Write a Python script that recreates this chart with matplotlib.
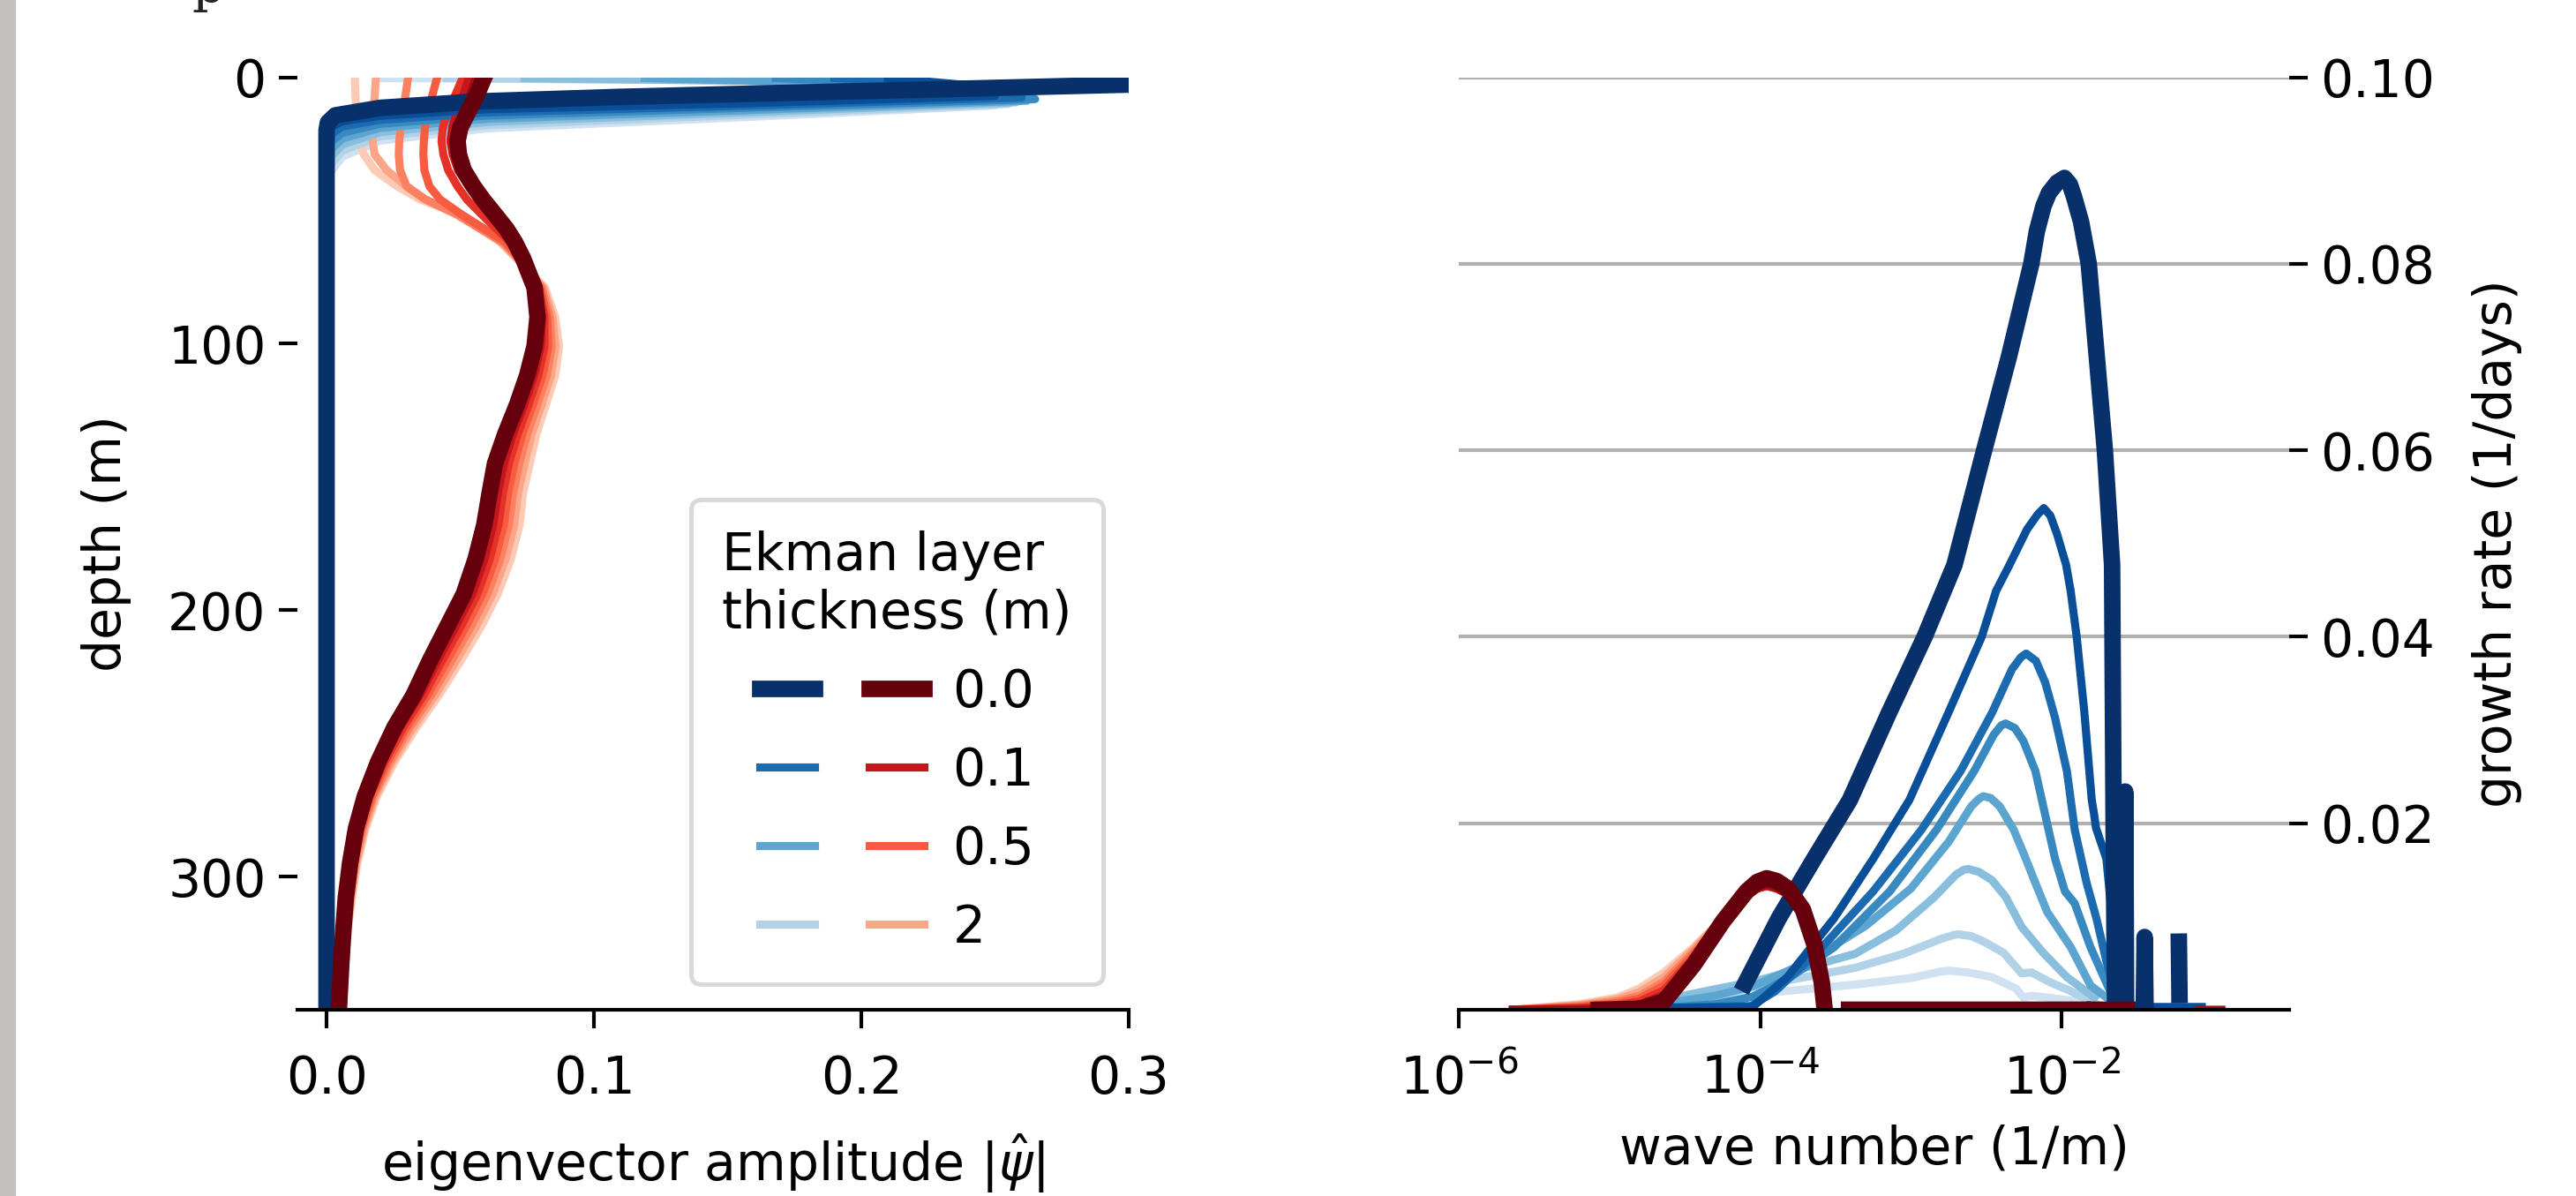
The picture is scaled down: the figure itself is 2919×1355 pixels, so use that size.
import numpy as np
import matplotlib.pyplot as plt
from matplotlib.patches import Rectangle
from matplotlib.legend_handler import HandlerTuple
from matplotlib.ticker import FormatStrFormatter, NullLocator

plt.rcParams['font.family'] = 'DejaVu Sans'
plt.rcParams['font.size'] = 14

# ---------------- data ----------------
# legend entries (Ekman layer thickness, m); curves are ordered thin -> thick layer
legend_idx = [0, 2, 4, 6]
legend_labels = ['0.0', '0.1', '0.5', '2']

# left panel: eigenvector amplitude |psi_hat| vs depth (m)
blue_amp = [
    [0.320, 0.302, 0.230, 0.162, 0.109, 0.056, 0.020, 0.0033, 0.0005, 0.0, 0.0],
    [0.210, 0.240, 0.250, 0.156, 0.060, 0.020, 0.006, 0.0, 0.0],
    [0.190, 0.240, 0.260, 0.156, 0.060, 0.020, 0.006, 0.0, 0.0],
    [0.168, 0.240, 0.265, 0.156, 0.060, 0.020, 0.006, 0.0, 0.0],
    [0.119, 0.155, 0.240, 0.262, 0.156, 0.060, 0.020, 0.006, 0.0, 0.0],
    [0.074, 0.150, 0.240, 0.258, 0.156, 0.060, 0.020, 0.006, 0.0, 0.0],
    [0.045, 0.150, 0.240, 0.255, 0.156, 0.060, 0.020, 0.006, 0.0, 0.0],
    [0.020, 0.150, 0.240, 0.250, 0.156, 0.060, 0.020, 0.006, 0.0, 0.0],
]
blue_depth = [
    [2.2, 2.7, 4.5, 6.1, 7.4, 9.1, 11.5, 14.3, 17.0, 20.0, 350.0],
    [0.3, 3.0, 7.0, 9.8, 12.0, 14.5, 16.5, 19.5, 350.0],
    [0.3, 3.0, 7.6, 10.7, 13.2, 16.0, 18.5, 22.5, 350.0],
    [0.3, 3.0, 8.2, 11.5, 14.4, 17.5, 20.8, 25.5, 350.0],
    [0.3, 1.2, 3.0, 8.8, 12.4, 15.6, 19.0, 23.0, 28.5, 350.0],
    [0.3, 1.2, 3.0, 9.4, 13.2, 16.8, 20.6, 25.2, 31.5, 350.0],
    [0.3, 1.2, 3.0, 10.0, 14.1, 18.0, 22.2, 27.5, 34.5, 350.0],
    [0.3, 1.2, 3.0, 10.6, 15.0, 19.2, 23.8, 29.8, 37.5, 350.0],
]

red_depth = [0, 7, 12.9, 19, 23.9, 29, 34.9, 41, 45.9, 51.5, 56.9, 62,
             68, 79, 90, 101, 112, 123, 134, 145, 156, 168, 181, 194, 206,
             219, 232, 244, 257, 270, 282, 295, 308, 320, 333, 350]
red_amp = [
    [0.0590, 0.0560, 0.0530, 0.0500, 0.0490, 0.0495, 0.0513, 0.0550, 0.0585, 0.0630, 0.0673, 0.0705,
     0.0735, 0.0778, 0.0789, 0.0778, 0.0750, 0.0712, 0.0668, 0.0630, 0.0610, 0.0590, 0.0557, 0.0513,
     0.0452, 0.0386, 0.0325, 0.0254, 0.0193, 0.0143, 0.0110, 0.0088, 0.0072, 0.0063, 0.0055, 0.0046],
    [0.0560, 0.0535, 0.0510, 0.0488, 0.0480, 0.0487, 0.0505, 0.0542, 0.0578, 0.0625, 0.0668, 0.0702,
     0.0733, 0.0782, 0.0796, 0.0787, 0.0761, 0.0723, 0.0680, 0.0643, 0.0623, 0.0603, 0.0570, 0.0526,
     0.0465, 0.0398, 0.0335, 0.0262, 0.0199, 0.0148, 0.0114, 0.0091, 0.0074, 0.0065, 0.0056, 0.0047],
    [0.0533, 0.0510, 0.0488, 0.0470, 0.0463, 0.0472, 0.0492, 0.0532, 0.0570, 0.0618, 0.0662, 0.0698,
     0.0729, 0.0788, 0.0806, 0.0801, 0.0776, 0.0739, 0.0697, 0.0663, 0.0641, 0.0623, 0.0590, 0.0545,
     0.0484, 0.0415, 0.0349, 0.0275, 0.0208, 0.0154, 0.0119, 0.0095, 0.0078, 0.0067, 0.0058, 0.0049],
    [0.0510, 0.0480, 0.0452, 0.0435, 0.0430, 0.0437, 0.0455, 0.0490, 0.0525, 0.0580, 0.0635, 0.0690,
     0.0725, 0.0794, 0.0815, 0.0815, 0.0792, 0.0755, 0.0715, 0.0682, 0.0660, 0.0643, 0.0610, 0.0564,
     0.0503, 0.0432, 0.0363, 0.0287, 0.0217, 0.0161, 0.0124, 0.0099, 0.0081, 0.0070, 0.0060, 0.0051],
    [0.0414, 0.0395, 0.0380, 0.0368, 0.0364, 0.0362, 0.0366, 0.0385, 0.0425, 0.0505, 0.0590, 0.0670,
     0.0721, 0.0799, 0.0825, 0.0829, 0.0808, 0.0771, 0.0732, 0.0702, 0.0679, 0.0663, 0.0630, 0.0583,
     0.0522, 0.0450, 0.0377, 0.0299, 0.0227, 0.0168, 0.0130, 0.0103, 0.0085, 0.0072, 0.0062, 0.0053],
    [0.0305, 0.0295, 0.0285, 0.0277, 0.0272, 0.0270, 0.0275, 0.0300, 0.0370, 0.0490, 0.0575, 0.0660,
     0.0718, 0.0805, 0.0835, 0.0842, 0.0824, 0.0788, 0.0750, 0.0721, 0.0698, 0.0682, 0.0649, 0.0602,
     0.0541, 0.0467, 0.0392, 0.0311, 0.0236, 0.0175, 0.0135, 0.0107, 0.0088, 0.0075, 0.0064, 0.0054],
    [0.0185, 0.0180, 0.0175, 0.0172, 0.0172, 0.0180, 0.0225, 0.0300, 0.0370, 0.0485, 0.0575, 0.0655,
     0.0714, 0.0811, 0.0845, 0.0856, 0.0839, 0.0804, 0.0767, 0.0741, 0.0716, 0.0702, 0.0669, 0.0621,
     0.0560, 0.0485, 0.0406, 0.0324, 0.0245, 0.0181, 0.0141, 0.0111, 0.0092, 0.0077, 0.0066, 0.0056],
    [0.0106, 0.0108, 0.0110, 0.0114, 0.0121, 0.0140, 0.0180, 0.0265, 0.0350, 0.0500, 0.0590, 0.0650,
     0.0710, 0.0817, 0.0855, 0.0870, 0.0855, 0.0820, 0.0785, 0.0760, 0.0735, 0.0722, 0.0689, 0.0640,
     0.0579, 0.0502, 0.0420, 0.0336, 0.0254, 0.0188, 0.0146, 0.0115, 0.0095, 0.0080, 0.0068, 0.0058],
]

# right panel: growth rate (1/days) vs log10 wave number (1/m)
nan = np.nan
blue_logk = [
    [-4.10, -3.877, -3.642, -3.405, -3.144, -2.909, -2.711, -2.514, -2.35, -2.201, -2.164, -2.12,
     -2.084, -2.03, -1.981, -1.945, -1.918, -1.871, -1.820, -1.713, -1.665, -1.655, -1.645, -1.585,
     -1.578, -1.572, -1.455, -1.449, -1.443, nan, -1.222, -1.218],
    [-4.66, -4.05, -3.82, -3.51, -3.25, -3.01, -2.75, -2.53, -2.435, -2.346, -2.23, -2.16, -2.118,
     -2.075, -2.03, -1.97, -1.94, -1.90, -1.849, -1.80, -1.784, -1.772, -1.703, -1.665, -1.636,
     -1.60, -1.07],
    [-4.66, -4.06, -3.90, -3.59, -3.25, -2.93, -2.67, -2.46, -2.33, -2.27, -2.235, -2.17, -2.109,
     -2.0435, -1.965, -1.913, -1.834, -1.769, -1.70, -1.624, -1.58],
    [-4.66, -4.30, -4.05, -3.80, -3.51, -3.14, -2.83, -2.58, -2.45, -2.40, -2.371, -2.31, -2.253,
     -2.174, -2.109, -2.0435, -1.978, -1.913, -1.808, -1.651, -1.62],
    [-4.66, -4.30, -4.05, -3.70, -3.30, -3.00, -2.75, -2.60, -2.55, -2.520, -2.47, -2.410, -2.318,
     -2.253, -2.174, -2.096, -1.939, -1.808, -1.651],
    [-4.66, -4.30, -4.05, -3.70, -3.37, -3.10, -2.85, -2.70, -2.65, -2.6195, -2.55, -2.4624,
     -2.371, -2.266, -2.122, -1.965, -1.782],
    [-4.66, -4.30, -4.05, -3.70, -3.37, -3.05, -2.80, -2.72, -2.685, -2.60, -2.515, -2.384,
     -2.266, -2.20, -2.070, -1.939, -1.782],
    [-4.66, -4.30, -4.05, -3.70, -3.37, -3.00, -2.80, -2.7505, -2.62, -2.4624, -2.305, -2.253,
     -2.20, -1.939, -1.729],
]
blue_growth = [
    [0.0028, 0.0098, 0.0162, 0.0225, 0.0319, 0.0400, 0.0477, 0.0600, 0.0700, 0.0800, 0.0835, 0.0862,
     0.0876, 0.0887, 0.0892, 0.0885, 0.0872, 0.0845, 0.0800, 0.0600, 0.0477, 0.0200, 0.0, 0.0,
     0.0234, 0.0, 0.0, 0.0078, 0.0, nan, 0.0073, 0.0016],
    [0.0002, 0.0003, 0.0035, 0.0098, 0.0162, 0.0225, 0.0319, 0.0400, 0.0449, 0.0477, 0.0515, 0.0531,
     0.0538, 0.0530, 0.0510, 0.0477, 0.0449, 0.0400, 0.0319, 0.0225, 0.0209, 0.0195, 0.0162, 0.0098,
     0.0035, 0.0003, 0.0003],
    [0.0002, 0.0004, 0.0020, 0.0067, 0.0127, 0.0193, 0.0256, 0.0319, 0.0365, 0.0378, 0.0382, 0.0374,
     0.0351, 0.0313, 0.0256, 0.0193, 0.0136, 0.0098, 0.0050, 0.0007, 0.0002],
    [0.0002, 0.0006, 0.0014, 0.0035, 0.0067, 0.0127, 0.0193, 0.0256, 0.0295, 0.0305, 0.0307, 0.0302,
     0.0288, 0.0256, 0.0209, 0.0162, 0.0127, 0.0114, 0.0067, 0.0010, 0.0003],
    [0.0006, 0.0015, 0.0025, 0.0050, 0.0090, 0.0130, 0.0180, 0.0218, 0.0226, 0.0229, 0.0227,
     0.0218, 0.0193, 0.0168, 0.0136, 0.0105, 0.0067, 0.0026, 0.0007],
    [0.0010, 0.0022, 0.0030, 0.0045, 0.0060, 0.0085, 0.0120, 0.0145, 0.0150, 0.0151, 0.0148,
     0.0139, 0.0121, 0.0089, 0.0061, 0.0035, 0.0013],
    [0.0009, 0.0019, 0.0025, 0.0035, 0.0045, 0.0060, 0.0076, 0.0080, 0.0081, 0.0079, 0.0073,
     0.0061, 0.0039, 0.0040, 0.0029, 0.0020, 0.0007],
    [0.0007, 0.0014, 0.0017, 0.0022, 0.0027, 0.0034, 0.0041, 0.0042, 0.0040, 0.0035, 0.0023,
     0.0013, 0.0015, 0.0010, 0.0004],
]

red_logk_hump = [-5.64, -5.20, -4.95, -4.80, -4.638, -4.442, -4.246, -4.09, -4.02, -3.957,
                 -3.89, -3.816, -3.718, -3.64, -3.591, -3.572]
red_growth_hump = [
    [nan, nan, nan, 0.0001, 0.0009, 0.0048, 0.0095, 0.0127, 0.0137, 0.0141, 0.0138, 0.0130, 0.0108, 0.0070, 0.0029, 0.0],
    [0.0, 0.0, 0.0001, 0.0003, 0.0011, 0.0050, 0.0095, 0.0122, 0.0131, 0.0134, 0.0131, 0.0124, 0.0103, 0.0066, 0.0027, 0.0],
    [0.0, 0.0001, 0.0003, 0.0006, 0.0016, 0.0053, 0.0096, 0.0122, 0.0130, 0.0133, 0.0130, 0.0124, 0.0103, 0.0066, 0.0027, 0.0],
    [0.0, 0.0002, 0.0005, 0.0009, 0.0021, 0.0056, 0.0096, 0.0122, 0.0130, 0.0133, 0.0130, 0.0124, 0.0103, 0.0066, 0.0027, 0.0],
    [0.0, 0.0003, 0.0007, 0.0012, 0.0026, 0.0059, 0.0097, 0.0122, 0.0130, 0.0133, 0.0130, 0.0124, 0.0103, 0.0066, 0.0027, 0.0],
    [0.0, 0.0004, 0.0009, 0.0015, 0.0030, 0.0062, 0.0097, 0.0122, 0.0130, 0.0133, 0.0130, 0.0124, 0.0103, 0.0066, 0.0027, 0.0],
    [0.0, 0.0005, 0.0011, 0.0019, 0.0035, 0.0065, 0.0098, 0.0122, 0.0130, 0.0133, 0.0130, 0.0124, 0.0103, 0.0066, 0.0027, 0.0],
    [0.0, 0.0006, 0.0013, 0.0023, 0.0040, 0.0067, 0.0098, 0.0122, 0.0130, 0.0133, 0.0130, 0.0124, 0.0103, 0.0066, 0.0027, 0.0],
]
# thickest red layer: flat stable stretch before the hump
red0_flat = ([-5.07, -4.80], [0.0, 0.0001])
# stable (zero growth) stretches at higher wave numbers
red_zero_bands = [(-3.41, -1.86), (-1.78, -1.57)]
red1_extra_band = (-1.09, -0.94)

# ---------------- style ----------------
n = len(blue_amp)
shade = np.linspace(1.0, 0.2, n)
blues = [plt.cm.Blues(s) for s in shade]
reds = [plt.cm.Reds(s) for s in shade]
lw_thick, lw_thin = 4.5, 2.2

fig = plt.figure(figsize=(2920 / 300, 1355 / 300), dpi=300)
fig.patches.append(Rectangle((0, 0), 16 / 2920, 1, transform=fig.transFigure,
                             color='#c2c1bf', zorder=0))
fig.text(236 / 2920, 1 - 2 / 1355, 'p', family='DejaVu Serif', fontsize=14,
         color='#222222', ha='center', va='baseline')

bottom = 1 - 1144 / 1355
height = (1144 - 87.5) / 1355
ax1 = fig.add_axes([337 / 2920, bottom, 942 / 2920, height])
ax2 = fig.add_axes([1653 / 2920, bottom, 941 / 2920, height])

blue_lines, red_lines = [None] * n, [None] * n
for i in range(n - 1, -1, -1):
    lw = lw_thick if i == 0 else lw_thin
    bl, = ax1.plot(blue_amp[i], blue_depth[i], color=blues[i], lw=lw)
    rl, = ax1.plot(red_amp[i], red_depth, color=reds[i], lw=lw)
    blue_lines[i], red_lines[i] = bl, rl

    k_b = 10.0 ** np.array(blue_logk[i])
    ax2.plot(k_b, blue_growth[i], color=blues[i], lw=lw)

    rk, rg = list(red_logk_hump), list(red_growth_hump[i])
    if i == 0:
        rk = red0_flat[0] + [nan] + rk
        rg = red0_flat[1] + [nan] + rg
    bands = list(red_zero_bands) + ([red1_extra_band] if i == 1 else [])
    for a, b in bands:
        rk += [nan, a, b]
        rg += [nan, 0.0, 0.0]
    ax2.plot(10.0 ** np.array(rk), rg, color=reds[i], lw=lw)

# left panel
ax1.set_xlim(-0.0109, 0.3)
ax1.set_ylim(350, 0)
ax1.set_xticks([0.0, 0.1, 0.2, 0.3])
ax1.set_yticks([0, 100, 200, 300])
for s in ['top', 'right', 'left']:
    ax1.spines[s].set_visible(False)
ax1.spines['bottom'].set_linewidth(1.0)
ax1.tick_params(length=5, width=1.0, labelsize=14)
ax1.tick_params(axis='x', pad=7)
ax1.set_xlabel(r'eigenvector amplitude $|\hat{\psi}|$', fontsize=14, labelpad=7.5)
ax1.set_ylabel('depth (m)', fontsize=14, labelpad=10)

handles = [(blue_lines[i], red_lines[i]) for i in legend_idx]
leg = ax1.legend(handles, legend_labels, title='Ekman layer\nthickness (m)',
                 loc='lower right', fontsize=14, title_fontsize=14,
                 handler_map={tuple: HandlerTuple(ndivide=None, pad=1.05)},
                 handlelength=3.2, handletextpad=0.55, labelspacing=0.55,
                 borderpad=0.6, fancybox=True, framealpha=1,
                 edgecolor='#d9d9d9')
leg.get_frame().set_linewidth(1.2)

# right panel
ax2.set_xscale('log')
ax2.set_xlim(1e-6, 10 ** -0.49)
ax2.set_ylim(0, 0.1)
ax2.set_xticks([1e-6, 1e-4, 1e-2])
ax2.xaxis.set_minor_locator(NullLocator())
ax2.set_yticks([0.02, 0.04, 0.06, 0.08, 0.10])
ax2.yaxis.set_major_formatter(FormatStrFormatter('%.2f'))
ax2.yaxis.tick_right()
ax2.yaxis.set_label_position('right')
for s in ['top', 'right', 'left']:
    ax2.spines[s].set_visible(False)
ax2.spines['bottom'].set_linewidth(1.0)
ax2.tick_params(length=5, width=1.0, labelsize=14)
ax2.tick_params(axis='x', pad=7)
ax2.yaxis.grid(True, color='#b0b0b0', lw=1.0)
ax2.set_axisbelow(True)
ax2.set_xlabel('wave number (1/m)', fontsize=14, labelpad=5)
ax2.set_ylabel('growth rate (1/days)', fontsize=14, labelpad=10)

fig.savefig('out.png', dpi=300)
